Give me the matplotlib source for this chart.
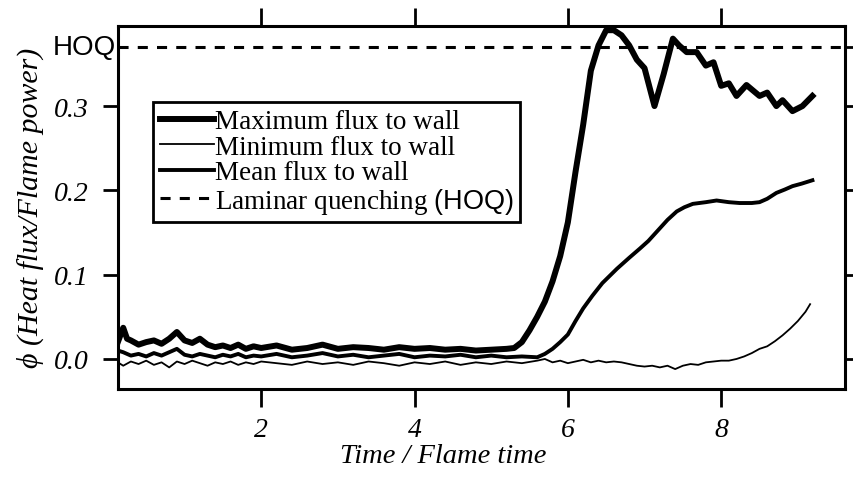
import numpy as np
import matplotlib
matplotlib.use("Agg")
import matplotlib.pyplot as plt

# ---- data ----
t_max = [0.13, 0.2, 0.25, 0.3, 0.4, 0.5, 0.6, 0.7, 0.8, 0.9, 1.0, 1.1, 1.2, 1.3,
         1.4, 1.5, 1.6, 1.7, 1.8, 1.9, 2.0, 2.2, 2.4, 2.6, 2.8, 3.0, 3.2, 3.4,
         3.6, 3.8, 4.0, 4.2, 4.4, 4.6, 4.8, 5.0, 5.2, 5.3, 5.4, 5.5, 5.6, 5.7,
         5.8, 5.9, 6.0, 6.1, 6.2, 6.3, 6.4, 6.5, 6.6, 6.7, 6.8, 6.9, 7.0, 7.13,
         7.25, 7.37, 7.45, 7.55, 7.68, 7.8, 7.9, 8.0, 8.1, 8.2, 8.33, 8.5, 8.6,
         8.72, 8.8, 8.93, 9.06, 9.19]
phi_max = [0.020, 0.037, 0.024, 0.022, 0.017, 0.020, 0.022, 0.018, 0.024, 0.032,
           0.022, 0.019, 0.024, 0.017, 0.014, 0.016, 0.013, 0.017, 0.012, 0.015,
           0.013, 0.016, 0.011, 0.013, 0.017, 0.012, 0.014, 0.013, 0.011, 0.014,
           0.012, 0.013, 0.011, 0.012, 0.010, 0.011, 0.012, 0.013, 0.020, 0.034,
           0.050, 0.068, 0.092, 0.122, 0.162, 0.222, 0.278, 0.342, 0.372, 0.390,
           0.390, 0.384, 0.372, 0.355, 0.345, 0.300, 0.338, 0.380, 0.372, 0.364,
           0.364, 0.348, 0.352, 0.324, 0.327, 0.312, 0.325, 0.312, 0.316, 0.300,
           0.307, 0.294, 0.300, 0.312]

t_min = [0.13, 0.2, 0.3, 0.4, 0.5, 0.6, 0.7, 0.8, 0.9, 1.0, 1.1, 1.2, 1.3, 1.4,
         1.5, 1.6, 1.7, 1.8, 1.9, 2.0, 2.2, 2.4, 2.6, 2.8, 3.0, 3.2, 3.4, 3.6,
         3.8, 4.0, 4.2, 4.4, 4.6, 4.8, 5.0, 5.2, 5.4, 5.6, 5.7, 5.8, 5.9, 6.0,
         6.1, 6.2, 6.3, 6.4, 6.5, 6.6, 6.7, 6.8, 6.9, 7.0, 7.1, 7.2, 7.3, 7.4,
         7.5, 7.6, 7.7, 7.8, 7.9, 8.0, 8.1, 8.2, 8.3, 8.4, 8.5, 8.6, 8.7, 8.8,
         8.9, 9.0, 9.1, 9.16]
phi_min = [-0.004, -0.008, -0.003, -0.006, -0.002, -0.007, -0.004, -0.010, -0.003,
           -0.006, -0.002, -0.005, -0.008, -0.004, -0.006, -0.003, -0.007, -0.004,
           -0.006, -0.003, -0.005, -0.007, -0.003, -0.006, -0.004, -0.007, -0.003,
           -0.005, -0.008, -0.004, -0.006, -0.003, -0.007, -0.004, -0.006, -0.003,
           -0.005, -0.002, 0.000, -0.004, -0.002, -0.005, -0.003, -0.001, -0.004,
           -0.002, -0.004, -0.003, -0.004, -0.006, -0.008, -0.009, -0.008, -0.010,
           -0.008, -0.012, -0.008, -0.006, -0.007, -0.004, -0.003, -0.002, -0.002,
           0.000, 0.003, 0.007, 0.012, 0.015, 0.021, 0.028, 0.036, 0.045, 0.056,
           0.065]

t_mean = [0.13, 0.2, 0.3, 0.4, 0.5, 0.6, 0.7, 0.8, 0.9, 1.0, 1.1, 1.2, 1.3, 1.4,
          1.5, 1.6, 1.7, 1.8, 1.9, 2.0, 2.2, 2.4, 2.6, 2.8, 3.0, 3.2, 3.4, 3.6,
          3.8, 4.0, 4.2, 4.4, 4.6, 4.8, 5.0, 5.2, 5.4, 5.6, 5.7, 5.8, 5.9, 6.0,
          6.1, 6.2, 6.32, 6.45, 6.64, 6.8, 6.94, 7.05, 7.2, 7.3, 7.42, 7.52, 7.63,
          7.8, 7.94, 8.1, 8.24, 8.4, 8.5, 8.6, 8.72, 8.83, 8.93, 9.05, 9.19]
phi_mean = [0.010, 0.008, 0.004, 0.006, 0.003, 0.007, 0.004, 0.008, 0.012, 0.005,
            0.003, 0.006, 0.004, 0.002, 0.005, 0.003, 0.006, 0.002, 0.004, 0.003,
            0.006, 0.002, 0.004, 0.007, 0.003, 0.005, 0.002, 0.004, 0.006, 0.002,
            0.004, 0.003, 0.005, 0.002, 0.004, 0.002, 0.003, 0.002, 0.006, 0.012,
            0.020, 0.029, 0.045, 0.060, 0.075, 0.090, 0.107, 0.120, 0.131, 0.140,
            0.155, 0.165, 0.175, 0.180, 0.184, 0.186, 0.188, 0.186, 0.185, 0.185,
            0.186, 0.190, 0.197, 0.201, 0.205, 0.208, 0.212]

hoq = 0.37
x_ticks = [2, 4, 6, 8]
y_ticks = [0.0, 0.1, 0.2, 0.3]
y_ticklabels = ["0.0", "0.1", "0.2", "0.3"]
labels = ["Maximum flux to wall", "Minimum flux to wall",
          "Mean flux to wall", r"Laminar quenching $\mathsf{(HOQ)}$"]

serif = ["Liberation Serif", "DejaVu Serif"]
plt.rcParams["mathtext.fontset"] = "custom"
plt.rcParams["mathtext.sf"] = "Liberation Sans"
plt.rcParams["mathtext.rm"] = "Liberation Serif"

fig = plt.figure(figsize=(8.54, 4.89), dpi=100)
ax = fig.add_axes([0.138, 0.2025, 0.851, 0.7423])

ax.plot(t_max, phi_max, color="black", lw=4.3, solid_joinstyle="round", label=labels[0])
ax.plot(t_min, phi_min, color="black", lw=1.3, label=labels[1])
ax.plot(t_mean, phi_mean, color="black", lw=2.8, label=labels[2])
ax.axhline(hoq, color="black", lw=2.2, dashes=(3.3, 3.0), label=labels[3])

ax.set_xlim(0.13, 9.61)
ax.set_ylim(-0.0356, 0.395)

for s in ax.spines.values():
    s.set_linewidth(2.2)

ax.set_xticks(x_ticks)
ax.set_xticklabels([str(v) for v in x_ticks], fontstyle="italic", family=serif, fontsize=20)
ax.set_yticks(y_ticks)
ax.set_yticklabels(y_ticklabels, fontstyle="italic", family=serif, fontsize=20)
ax.tick_params(axis="x", direction="out", length=13, width=2, pad=7, top=True)
ax.tick_params(axis="y", direction="out", length=11, width=2, pad=10)

# ticks on the right side, incl. HOQ, without labels
ax2 = ax.twinx()
ax2.set_ylim(ax.get_ylim())
ax2.set_yticks(y_ticks + [hoq])
ax2.set_yticklabels([])
ax2.tick_params(axis="y", direction="out", length=11, width=2)
for s in ax2.spines.values():
    s.set_visible(False)

ax.text(-0.002, hoq, "HOQ", transform=ax.get_yaxis_transform(), ha="right",
        va="center", fontsize=20, family=["Liberation Sans", "DejaVu Sans"])

fig.text(0.519, 0.066, "Time / Flame time", ha="center", va="center",
         fontsize=20.5, fontstyle="italic", family=serif)
fig.text(0.035, 0.575, "ϕ (Heat flux/Flame power)", ha="center", va="center",
         rotation=90, fontsize=21.5, fontstyle="italic", family=serif)

leg = ax.legend(loc="upper left", bbox_to_anchor=(0.048, 0.79), borderaxespad=0,
                prop={"family": serif, "size": 19.5}, handlelength=2.0,
                handletextpad=0.05, labelspacing=0.02, borderpad=0.25,
                fancybox=False, frameon=True)
leg.get_frame().set_edgecolor("black")
leg.get_frame().set_linewidth(2.0)
leg.get_frame().set_alpha(1)

fig.savefig("out.png", dpi=100)
